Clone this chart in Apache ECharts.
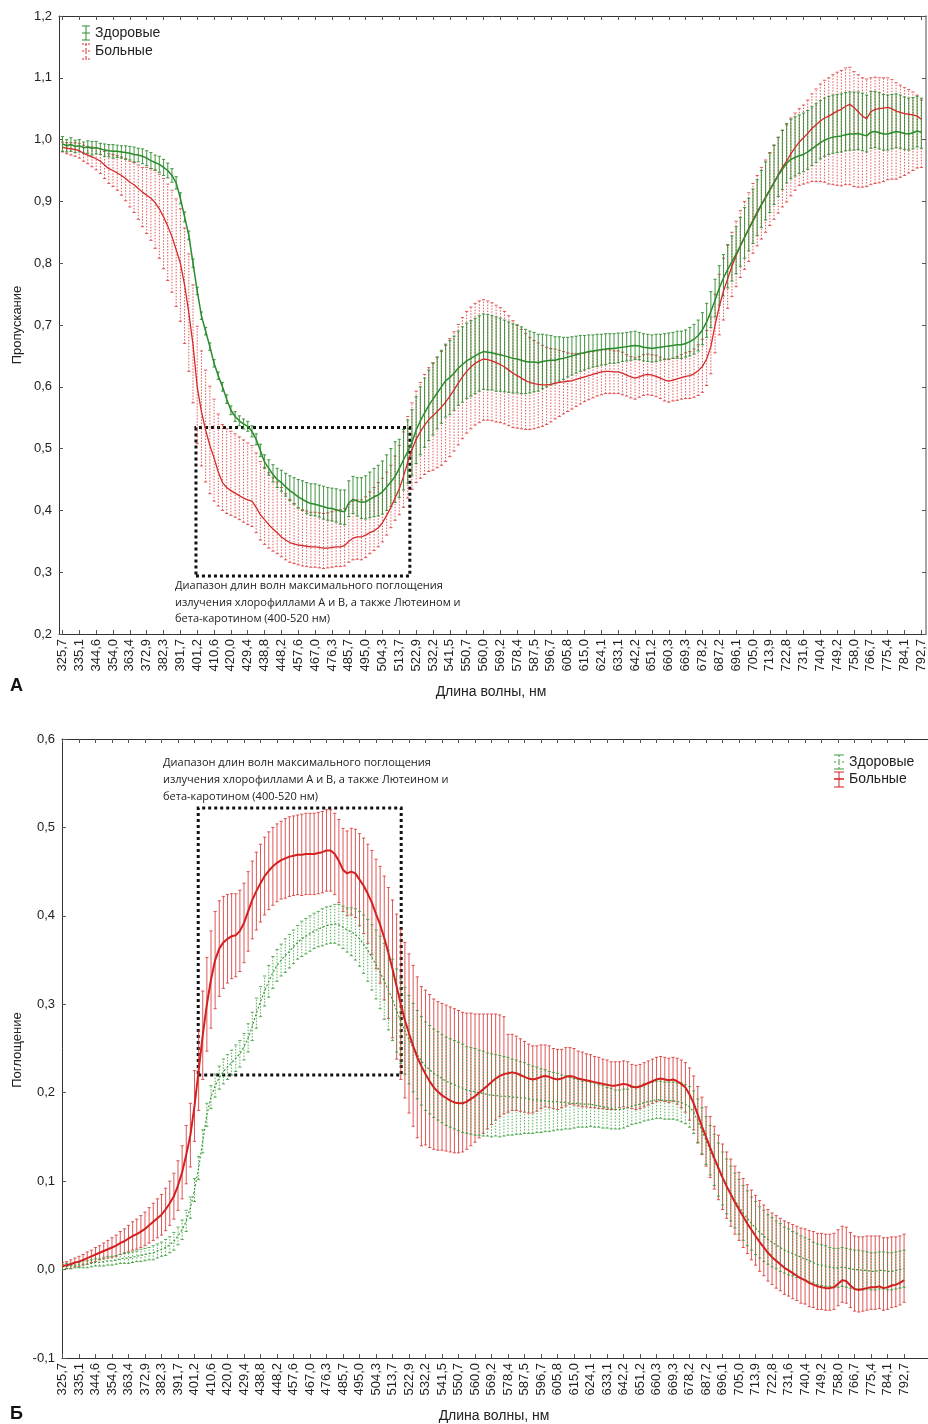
<!DOCTYPE html>
<html><head><meta charset="utf-8">
<script src="https://cdn.jsdelivr.net/npm/echarts@6/dist/echarts.min.js"></script>
<style>html,body{margin:0;padding:0;background:#fff}#c{width:928px;height:1424px}</style>
</head><body><div id="c"></div>
<script>
const tickLabels = ["325,7","335,1","344,6","354,0","363,4","372,9","382,3","391,7","401,2","410,6","420,0","429,4","438,8","448,2","457,6","467,0","476,3","485,7","495,0","504,3","513,7","522,9","532,2","541,5","550,7","560,0","569,2","578,4","587,5","596,7","605,8","615,0","624,1","633,1","642,2","651,2","660,3","669,3","678,2","687,2","696,1","705,0","713,9","722,8","731,6","740,4","749,2","758,0","766,7","775,4","784,1","792,7"];
const samplesPerTick = 4;
const seriesNames = ["Здоровые","Больные"];

// Panel A: transmission (Пропускание); error bars given as upper / lower extents from the mean
const healthyA = [0.993,0.990,0.992,0.989,0.990,0.987,0.988,0.986,0.987,0.985,0.983,0.982,0.981,0.981,0.980,0.979,0.978,0.976,0.975,0.973,0.970,0.966,0.963,0.960,0.955,0.950,0.942,0.930,0.905,0.875,0.845,0.800,0.755,0.715,0.690,0.665,0.638,0.618,0.600,0.580,0.562,0.552,0.545,0.540,0.536,0.528,0.515,0.497,0.478,0.468,0.458,0.450,0.445,0.438,0.432,0.427,0.422,0.418,0.414,0.411,0.410,0.408,0.406,0.404,0.403,0.401,0.399,0.398,0.412,0.418,0.415,0.413,0.414,0.418,0.422,0.425,0.430,0.438,0.446,0.455,0.468,0.482,0.495,0.510,0.530,0.545,0.558,0.570,0.580,0.590,0.600,0.610,0.615,0.622,0.630,0.636,0.642,0.646,0.650,0.654,0.657,0.656,0.655,0.653,0.652,0.650,0.648,0.646,0.645,0.643,0.641,0.640,0.640,0.639,0.641,0.642,0.643,0.643,0.645,0.646,0.648,0.650,0.652,0.654,0.655,0.657,0.658,0.659,0.660,0.661,0.662,0.662,0.663,0.664,0.665,0.666,0.667,0.666,0.664,0.663,0.662,0.663,0.664,0.665,0.666,0.667,0.668,0.668,0.670,0.673,0.677,0.683,0.692,0.705,0.722,0.740,0.760,0.776,0.790,0.802,0.815,0.828,0.842,0.855,0.868,0.881,0.894,0.906,0.918,0.930,0.942,0.952,0.962,0.968,0.971,0.974,0.976,0.980,0.985,0.990,0.995,0.999,1.002,1.004,1.005,1.006,1.008,1.009,1.009,1.010,1.008,1.006,1.012,1.013,1.011,1.009,1.009,1.011,1.013,1.012,1.010,1.009,1.011,1.014,1.012];
const healthyA_up = [0.012,0.010,0.011,0.010,0.010,0.009,0.010,0.011,0.010,0.009,0.010,0.010,0.011,0.010,0.010,0.011,0.011,0.012,0.011,0.012,0.012,0.013,0.012,0.013,0.013,0.012,0.011,0.010,0.009,0.008,0.007,0.007,0.006,0.006,0.006,0.006,0.006,0.006,0.007,0.007,0.007,0.008,0.008,0.008,0.008,0.009,0.009,0.010,
0.012,0.014,0.016,0.018,0.020,0.022,0.024,0.026,0.028,0.030,0.031,0.032,0.033,0.033,0.033,0.033,0.033,0.034,0.034,0.035,0.036,0.037,0.038,0.040,0.042,0.044,0.046,0.048,0.050,0.052,0.054,0.056,
0.047,0.049,0.051,0.053,0.054,0.055,0.056,0.057,0.058,0.058,0.059,0.059,0.060,0.060,0.060,0.061,0.061,0.061,0.061,0.061,0.061,0.061,0.060,0.060,0.059,0.058,0.057,0.056,0.055,0.054,0.052,0.050,0.048,0.046,0.044,0.042,0.040,0.038,0.036,0.034,0.032,0.031,0.030,0.029,0.028,0.027,0.026,0.026,0.025,0.025,0.024,0.024,0.024,0.023,0.023,0.023,0.023,0.022,0.022,0.022,0.022,0.022,0.021,0.021,0.021,0.021,0.022,0.022,0.022,0.023,0.024,0.025,
0.028,0.030,0.032,0.034,0.036,0.038,0.040,0.042,0.044,0.046,0.048,0.050,0.052,0.054,0.056,0.058,0.060,0.061,0.062,0.063,0.064,0.065,0.066,0.066,0.067,0.067,0.068,0.068,0.068,0.068,0.068,0.068,0.068,0.068,0.068,0.068,0.068,0.067,0.067,0.066,0.066,0.065,0.065,0.064,0.063,0.062,0.061,0.060,0.059,0.058,0.057,0.056,0.055];
const healthyA_down = [0.012,0.010,0.011,0.010,0.010,0.009,0.010,0.011,0.010,0.009,0.010,0.010,0.011,0.010,0.010,0.011,0.011,0.012,0.011,0.012,0.012,0.013,0.012,0.013,0.013,0.012,0.011,0.010,0.009,0.008,0.007,0.007,0.006,0.006,0.006,0.006,0.006,0.006,0.007,0.007,0.007,0.008,0.008,0.008,0.008,0.009,0.009,0.010,
0.010,0.011,0.012,0.013,0.014,0.015,0.016,0.017,0.018,0.018,0.019,0.019,0.019,0.019,0.020,0.020,0.020,0.020,0.021,0.021,0.022,0.023,0.024,0.026,0.028,0.030,0.032,0.034,0.036,0.038,0.040,0.042,
0.047,0.049,0.051,0.053,0.054,0.055,0.056,0.057,0.058,0.058,0.059,0.059,0.060,0.060,0.060,0.061,0.061,0.061,0.061,0.061,0.061,0.061,0.060,0.060,0.059,0.058,0.057,0.056,0.055,0.054,0.052,0.050,0.048,0.046,0.044,0.042,0.040,0.038,0.036,0.034,0.032,0.031,0.030,0.029,0.028,0.027,0.026,0.026,0.025,0.025,0.024,0.024,0.024,0.023,0.023,0.023,0.023,0.022,0.022,0.022,0.022,0.022,0.021,0.021,0.021,0.021,0.022,0.022,0.022,0.023,0.024,0.025,
0.024,0.025,0.026,0.027,0.028,0.029,0.030,0.031,0.032,0.033,0.034,0.035,0.036,0.036,0.036,0.036,0.036,0.035,0.034,0.033,0.032,0.031,0.030,0.029,0.028,0.028,0.027,0.027,0.026,0.026,0.026,0.026,0.026,0.026,0.026,0.026,0.026,0.026,0.026,0.026,0.026,0.026,0.026,0.026,0.026,0.026,0.026,0.026,0.026,0.026,0.026,0.026,0.026];
const patientsA = [0.988,0.986,0.985,0.984,0.982,0.978,0.975,0.972,0.969,0.965,0.959,0.953,0.950,0.946,0.942,0.937,0.931,0.927,0.921,0.915,0.910,0.905,0.898,0.888,0.875,0.860,0.843,0.822,0.800,0.765,0.720,0.668,0.600,0.560,0.530,0.505,0.485,0.462,0.445,0.437,0.432,0.428,0.424,0.420,0.417,0.415,0.405,0.393,0.385,0.377,0.370,0.364,0.357,0.352,0.348,0.346,0.344,0.343,0.342,0.341,0.341,0.340,0.339,0.339,0.340,0.341,0.341,0.343,0.350,0.355,0.357,0.357,0.360,0.364,0.367,0.372,0.380,0.392,0.405,0.420,0.435,0.455,0.478,0.498,0.515,0.527,0.538,0.547,0.553,0.560,0.567,0.575,0.585,0.595,0.606,0.616,0.625,0.632,0.638,0.642,0.645,0.644,0.642,0.639,0.636,0.632,0.627,0.622,0.618,0.614,0.610,0.607,0.605,0.604,0.603,0.603,0.604,0.606,0.607,0.608,0.609,0.610,0.612,0.614,0.616,0.618,0.620,0.622,0.624,0.625,0.625,0.624,0.624,0.622,0.619,0.616,0.614,0.616,0.619,0.620,0.619,0.617,0.614,0.611,0.609,0.611,0.613,0.615,0.617,0.618,0.621,0.626,0.633,0.645,0.665,0.700,0.730,0.755,0.775,0.795,0.812,0.828,0.842,0.856,0.870,0.883,0.895,0.907,0.919,0.931,0.943,0.955,0.965,0.977,0.987,0.996,1.003,1.010,1.018,1.024,1.030,1.035,1.038,1.042,1.046,1.049,1.054,1.057,1.052,1.045,1.038,1.034,1.045,1.049,1.050,1.051,1.052,1.050,1.046,1.044,1.042,1.041,1.040,1.038,1.033];
const patientsA_up = [0.008,0.009,0.010,0.011,0.012,0.013,0.014,0.016,0.018,0.020,0.022,0.024,0.026,0.028,0.030,0.032,0.034,0.036,0.038,0.040,
0.045,0.048,0.052,0.056,0.062,0.068,0.075,0.082,
0.088,0.092,0.095,0.097,0.098,0.098,0.097,0.096,
0.095,0.094,0.094,0.095,0.096,0.096,0.095,0.094,
0.092,0.090,0.088,0.086,0.085,0.084,0.083,0.082,
0.080,0.075,0.070,0.065,
0.060,0.058,0.057,0.056,0.056,0.056,0.056,0.057,
0.058,0.059,0.060,0.060,0.060,0.060,0.060,0.060,
0.062,0.066,0.070,0.073,0.072,0.070,0.068,0.068,
0.070,0.072,0.074,0.076,0.078,0.080,0.082,0.084,
0.086,0.088,0.090,0.092,0.093,0.094,0.095,0.096,0.097,0.097,0.097,0.097,
0.096,0.095,0.094,0.093,0.092,0.090,0.088,0.085,0.082,0.079,0.076,0.073,
0.070,0.067,0.064,0.061,0.058,0.055,0.052,0.049,0.046,0.044,0.042,0.040,
0.039,0.038,0.037,0.036,0.036,0.035,0.035,0.034,0.034,0.034,0.033,0.033,0.033,0.033,0.033,0.033,0.033,0.034,0.034,0.034,0.035,0.035,0.036,0.037,0.038,0.039,0.040,0.042,
0.044,0.046,0.048,0.050,0.052,0.053,0.054,0.055,0.056,0.057,0.058,0.058,0.059,0.059,0.060,0.060,0.060,0.060,0.060,0.060,0.059,0.058,0.056,0.054,
0.053,0.054,0.056,0.058,0.060,0.061,0.062,0.063,0.063,0.063,0.062,0.060,0.058,0.060,0.062,0.064,
0.055,0.052,0.050,0.049,0.048,0.047,0.046,0.044,0.042,0.040,0.037,0.034,0.031];
const patientsA_down = [0.008,0.009,0.010,0.011,0.012,0.013,0.014,0.016,0.018,0.020,0.022,0.024,0.026,0.028,0.032,0.036,
0.040,0.045,0.050,0.056,0.062,0.068,0.074,0.080,0.084,0.088,0.090,0.092,
0.094,0.095,0.095,0.094,0.092,0.088,0.084,0.078,
0.070,0.055,0.045,0.042,0.040,0.039,0.039,0.039,
0.040,0.041,0.041,0.041,0.040,0.038,0.036,0.034,
0.032,0.032,0.032,0.032,0.032,0.033,0.033,0.033,
0.033,0.033,0.033,0.032,0.032,0.032,0.032,0.033,
0.034,0.035,0.036,0.037,0.036,0.034,0.032,0.031,
0.031,0.032,0.033,0.036,0.042,0.050,0.058,0.064,
0.070,0.075,0.080,0.084,0.088,0.091,0.094,0.096,0.098,0.099,0.100,0.100,0.100,0.100,0.100,0.100,
0.099,0.098,0.097,0.096,0.094,0.092,0.090,0.088,0.085,0.082,0.079,0.076,
0.073,0.070,0.067,0.064,0.061,0.058,0.055,0.052,0.049,0.046,0.044,0.042,
0.040,0.039,0.038,0.037,0.037,0.036,0.036,0.035,0.035,0.035,0.034,0.034,0.034,0.033,0.033,0.033,0.033,0.033,0.033,0.034,0.034,0.034,0.035,0.035,0.036,0.037,0.038,0.040,
0.042,0.043,0.044,0.045,0.046,0.047,0.048,0.049,0.050,0.051,0.052,0.053,0.054,0.055,0.056,0.057,0.058,0.060,0.062,0.064,0.066,0.068,0.069,0.070,
0.075,0.080,0.086,0.092,0.098,0.104,0.110,0.115,0.120,0.124,0.127,0.130,0.128,0.122,0.115,0.110,
0.118,0.120,0.120,0.119,0.117,0.114,0.110,0.105,0.100,0.095,0.090,0.084,0.078];

// Panel Б: absorption (Поглощение)
const healthyB = [0.003,0.004,0.004,0.005,0.005,0.006,0.006,0.007,0.008,0.008,0.009,0.010,0.010,0.011,0.012,0.013,0.013,0.014,0.015,0.016,0.017,0.018,0.019,0.021,0.023,0.025,0.028,0.032,0.038,0.045,0.055,0.070,0.090,0.115,0.145,0.175,0.195,0.208,0.217,0.224,0.229,0.234,0.239,0.244,0.252,0.262,0.275,0.290,0.303,0.315,0.326,0.336,0.344,0.350,0.355,0.360,0.365,0.370,0.374,0.377,0.380,0.383,0.385,0.387,0.389,0.390,0.391,0.390,0.387,0.384,0.382,0.379,0.374,0.368,0.361,0.353,0.345,0.336,0.326,0.316,0.305,0.293,0.281,0.270,0.260,0.251,0.243,0.236,0.230,0.226,0.222,0.219,0.216,0.213,0.211,0.209,0.207,0.205,0.203,0.202,0.201,0.200,0.199,0.198,0.197,0.197,0.196,0.196,0.196,0.195,0.195,0.194,0.194,0.193,0.192,0.192,0.191,0.191,0.190,0.190,0.190,0.189,0.189,0.188,0.188,0.188,0.187,0.187,0.187,0.186,0.185,0.184,0.183,0.182,0.181,0.181,0.182,0.183,0.185,0.186,0.187,0.189,0.190,0.191,0.192,0.192,0.191,0.191,0.191,0.190,0.189,0.187,0.184,0.178,0.168,0.157,0.146,0.135,0.124,0.113,0.103,0.094,0.086,0.078,0.071,0.064,0.058,0.052,0.047,0.042,0.038,0.034,0.031,0.028,0.025,0.022,0.020,0.018,0.016,0.014,0.012,0.010,0.008,0.006,0.005,0.004,0.003,0.002,0.002,0.003,0.002,0.001,0.000,0.000,-0.001,-0.001,-0.002,-0.002,-0.001,-0.001,-0.002,-0.002,-0.001,0.000,0.001];
const healthyB_sd = [0.003,0.003,0.003,0.003,0.003,0.004,0.004,0.004,0.004,0.004,0.005,0.005,0.005,0.005,0.005,0.006,0.006,0.006,0.006,0.007,0.007,0.007,0.008,0.008,0.008,0.009,0.009,0.010,0.010,0.011,0.012,0.012,0.013,0.013,0.013,0.013,0.013,0.013,0.013,0.014,0.014,0.014,0.015,0.015,0.015,0.016,0.016,0.017,0.017,0.017,0.018,0.018,0.018,0.018,0.019,0.019,0.019,0.019,0.020,0.020,0.020,0.020,0.020,0.021,0.021,0.021,0.022,0.023,0.024,0.025,0.027,0.029,0.031,0.033,0.035,0.037,0.039,0.041,0.043,0.045,0.046,0.047,0.048,0.049,0.050,0.050,0.050,0.050,0.050,0.050,0.050,0.050,0.050,0.050,0.050,0.050,0.050,0.050,0.049,0.049,0.049,0.048,0.048,0.047,0.047,0.046,0.046,0.045,0.044,0.043,0.042,0.041,0.040,0.039,0.038,0.037,0.036,0.035,0.034,0.033,0.032,0.031,0.030,0.029,0.028,0.027,0.026,0.026,0.025,0.025,0.024,0.024,0.023,0.023,0.022,0.022,0.022,0.021,0.021,0.021,0.021,0.021,0.021,0.021,0.021,0.021,0.021,0.021,0.021,0.021,0.022,0.022,0.023,0.024,0.025,0.026,0.027,0.028,0.029,0.030,0.030,0.031,0.031,0.031,0.031,0.031,0.031,0.030,0.030,0.029,0.029,0.028,0.028,0.027,0.027,0.026,0.026,0.025,0.025,0.024,0.024,0.024,0.023,0.023,0.023,0.023,0.022,0.022,0.022,0.022,0.022,0.022,0.022,0.022,0.022,0.021,0.021,0.021,0.021,0.021,0.021,0.021,0.021,0.021,0.021];
const patientsB = [0.004,0.005,0.006,0.008,0.009,0.011,0.013,0.015,0.017,0.019,0.021,0.023,0.025,0.027,0.030,0.032,0.035,0.038,0.040,0.043,0.046,0.050,0.054,0.058,0.062,0.068,0.075,0.083,0.095,0.110,0.130,0.152,0.185,0.225,0.265,0.300,0.328,0.350,0.363,0.370,0.374,0.377,0.378,0.383,0.392,0.405,0.418,0.428,0.437,0.445,0.451,0.456,0.460,0.463,0.465,0.467,0.468,0.469,0.469,0.470,0.470,0.470,0.471,0.472,0.474,0.474,0.470,0.462,0.452,0.448,0.450,0.448,0.441,0.434,0.425,0.415,0.402,0.390,0.375,0.358,0.340,0.320,0.300,0.282,0.267,0.253,0.240,0.230,0.221,0.213,0.206,0.201,0.197,0.194,0.191,0.189,0.188,0.188,0.190,0.193,0.196,0.200,0.204,0.208,0.212,0.216,0.219,0.221,0.222,0.223,0.222,0.220,0.218,0.216,0.215,0.216,0.218,0.219,0.218,0.216,0.215,0.216,0.218,0.219,0.218,0.216,0.215,0.214,0.213,0.212,0.211,0.210,0.209,0.208,0.208,0.209,0.210,0.209,0.207,0.206,0.207,0.209,0.211,0.213,0.215,0.216,0.215,0.214,0.215,0.213,0.210,0.206,0.198,0.188,0.175,0.162,0.150,0.138,0.126,0.115,0.104,0.094,0.085,0.076,0.068,0.060,0.052,0.045,0.038,0.031,0.025,0.019,0.014,0.010,0.006,0.002,-0.001,-0.004,-0.007,-0.010,-0.012,-0.015,-0.017,-0.019,-0.020,-0.021,-0.021,-0.020,-0.016,-0.012,-0.013,-0.018,-0.022,-0.023,-0.022,-0.021,-0.020,-0.020,-0.019,-0.021,-0.020,-0.018,-0.017,-0.015,-0.012];
const patientsB_up = [0.004,0.004,0.005,0.005,0.006,0.006,0.007,0.007,0.008,0.008,0.009,0.010,0.011,0.012,0.013,0.014,0.015,0.016,0.017,0.018,0.019,0.020,0.021,0.022,0.023,0.024,0.025,0.026,0.028,0.030,0.033,0.036,0.040,0.045,0.050,0.053,0.055,0.055,0.054,0.052,0.050,0.048,0.047,0.046,0.045,0.045,0.044,0.044,0.044,0.044,0.044,0.044,0.044,0.044,0.045,0.045,0.045,0.045,0.046,0.046,0.046,0.046,0.046,0.046,0.046,0.046,0.046,0.047,0.047,0.048,0.049,0.050,0.052,0.054,0.056,0.059,0.062,0.066,0.070,0.074,0.078,0.082,0.085,0.088,0.090,0.091,0.091,0.090,
0.095,0.098,0.100,0.102,0.104,0.105,0.106,0.106,0.105,0.103,0.100,0.097,0.093,0.089,0.085,0.081,0.077,0.073,0.069,0.065,
0.044,0.043,0.042,0.041,0.040,0.039,0.038,0.037,0.036,0.035,0.035,0.034,0.034,0.033,0.033,0.032,0.032,0.031,0.031,0.030,0.030,0.029,0.029,0.028,0.028,0.027,0.027,0.026,0.026,0.026,0.025,0.025,0.025,0.025,0.025,0.025,0.025,0.025,0.025,0.025,0.025,0.026,0.027,0.028,
0.030,0.031,0.032,0.033,0.034,0.035,0.036,0.037,0.038,0.039,0.040,0.041,0.042,0.043,0.044,0.045,0.046,0.047,0.048,0.049,0.050,0.051,0.052,0.053,0.054,0.055,0.056,0.057,0.058,0.059,0.060,0.060,0.061,0.061,0.061,0.061,0.061,0.061,0.061,0.060,0.060,0.060,0.059,0.059,0.058,0.058,0.057,0.057,0.056,0.055,0.054,0.053,0.052];
const patientsB_down = [0.004,0.004,0.005,0.005,0.006,0.006,0.007,0.007,0.008,0.008,0.009,0.010,0.011,0.012,0.013,0.014,0.015,0.016,0.017,0.018,0.019,0.020,0.021,0.022,0.023,0.024,0.025,0.026,0.028,0.030,0.033,0.036,0.040,0.045,0.050,0.053,0.055,0.055,0.054,0.052,0.050,0.048,0.047,0.046,0.045,0.045,0.044,0.044,0.044,0.044,0.044,0.044,0.044,0.044,0.045,0.045,0.045,0.045,0.046,0.046,0.046,0.046,0.046,0.046,0.046,0.046,0.046,0.047,0.047,0.048,0.049,0.050,0.052,0.054,0.056,0.059,0.062,0.066,0.070,0.074,0.078,0.082,0.085,0.088,0.090,0.091,0.091,0.090,
0.080,0.075,0.070,0.066,0.062,0.060,0.058,0.057,0.056,0.055,0.054,0.053,0.052,0.051,0.050,0.049,0.048,0.047,0.046,0.045,
0.044,0.043,0.042,0.041,0.040,0.039,0.038,0.037,0.036,0.035,0.035,0.034,0.034,0.033,0.033,0.032,0.032,0.031,0.031,0.030,0.030,0.029,0.029,0.028,0.028,0.027,0.027,0.026,0.026,0.026,0.025,0.025,0.025,0.025,0.025,0.025,0.025,0.025,0.025,0.025,0.025,0.026,0.027,0.028,
0.029,0.030,0.031,0.032,0.033,0.034,0.035,0.036,0.036,0.036,0.036,0.036,0.035,0.035,0.034,0.034,0.033,0.033,0.032,0.032,0.031,0.031,0.030,0.030,0.029,0.029,0.028,0.028,0.027,0.027,0.026,0.026,0.025,0.025,0.025,0.025,0.025,0.025,0.025,0.025,0.025,0.025,0.025,0.025,0.025,0.025,0.025,0.025,0.025,0.025,0.025,0.025,0.025];

const noteLines = ["Диапазон длин волн максимального поглощения","излучения хлорофиллами А и В, а также Лютеином и","бета-каротином (400-520 нм)"];
// annotation boxes in axis units (sample index, value)
const boxA = {x:[31.7, 82.5], y:[0.294, 0.534]};
const boxB = {x:[32.9, 82.1], y:[0.220, 0.522]};

const FONT = '"Liberation Sans", Arial, sans-serif';
const tickIdx = tickLabels.map((_, k) => k * samplesPerTick);
const fmtX = v => { const k = Math.round(v / samplesPerTick); return tickLabels[k] || ''; };
const fmtY = v => (Math.round(v * 10) / 10).toFixed(1).replace('.', ',');

function pairs(arr){ return arr.map((v,i)=>[i,v]); }
function errData(mean, up, down){ return mean.map((m,i)=>[i, m - down[i], m + up[i]]); }
function errRender(color, dash, lw){
  return function(params, api){
    const x = api.value(0);
    const a = api.coord([x, api.value(1)]);
    const b = api.coord([x, api.value(2)]);
    const hw = 1.6;
    const s = {stroke: color, lineWidth: lw, lineDash: dash};
    const sc = {stroke: color, lineWidth: lw};
    return {type:'group', children:[
      {type:'line', shape:{x1:a[0], y1:a[1], x2:b[0], y2:b[1]}, style:s},
      {type:'line', shape:{x1:a[0]-hw, y1:a[1], x2:a[0]+hw, y2:a[1]}, style:sc},
      {type:'line', shape:{x1:b[0]-hw, y1:b[1], x2:b[0]+hw, y2:b[1]}, style:sc}
    ]};
  };
}
function errSeries(name, mean, up, down, xi, yi, color, dash, lw, z){
  return {type:'custom', name, xAxisIndex:xi, yAxisIndex:yi, data: errData(mean, up, down),
    encode:{x:0, y:[1,2]}, renderItem: errRender(color, dash, lw), z, silent:true, clip:true};
}
function box(b){
  return {silent:true, itemStyle:{color:'rgba(0,0,0,0)', borderColor:'#111', borderWidth:3, borderType:[3,3]},
    data:[[{coord:[b.x[0], b.y[0]]},{coord:[b.x[1], b.y[1]]}]]};
}

const axisLineDark = {show:true, onZero:false, lineStyle:{color:'#333', width:1}};
function bottomX(gi, min, max){
  return {type:'value', gridIndex:gi, min, max, position:'bottom',
    axisLine:axisLineDark, splitLine:{show:false},
    axisTick:{show:true, inside:true, length:4, customValues:tickIdx, lineStyle:{color:'#555'}},
    axisLabel:{customValues:tickIdx, formatter:fmtX, rotate:90, margin:5, fontFamily:FONT, fontSize:13, color:'#222'}};
}
function topX(gi, min, max){
  return {type:'value', gridIndex:gi, min, max, position:'top',
    axisLine:axisLineDark, splitLine:{show:false},
    axisTick:{show:true, inside:true, length:4, customValues:tickIdx, lineStyle:{color:'#555'}},
    axisLabel:{show:false}};
}
function leftY(gi, min, max){
  return {type:'value', gridIndex:gi, min, max, interval:0.1, position:'left',
    axisLine:axisLineDark, splitLine:{show:false},
    axisTick:{show:true, inside:true, length:4, lineStyle:{color:'#555'}},
    axisLabel:{formatter:fmtY, margin:7, fontFamily:FONT, fontSize:13, color:'#222'}};
}
function rightY(gi, min, max, showLine){
  return {type:'value', gridIndex:gi, min, max, interval:0.1, position:'right',
    axisLine:{show:showLine, onZero:false, lineStyle:{color:'#888', width:1.5}}, splitLine:{show:false},
    axisTick:{show:showLine, inside:true, length:4, lineStyle:{color:'#555'}},
    axisLabel:{show:false}};
}

const G_A = '#2a8c2a', R_A = '#d42a2a', G_B = '#3a9a3a', R_B = '#d42020';
const legendFont = '14px ' + FONT;
const option = {
  animation:false,
  backgroundColor:'#fff',
  grid:[
    {left:59, top:16, width:867, height:618},
    {left:62, top:739, width:870, height:619}
  ],
  xAxis:[bottomX(0,-0.83,205.1), topX(0,-0.83,205.1), bottomX(1,-0.12,209.8), topX(1,-0.12,209.8)],
  yAxis:[leftY(0,0.2,1.2), rightY(0,0.2,1.2,true), leftY(1,-0.1,0.6), rightY(1,-0.1,0.6,false)],
  series:[
    errSeries(seriesNames[1], patientsA, patientsA_up, patientsA_down, 0, 0, 'rgba(222,60,60,0.85)', [1.5,1.5], 1, 2),
    errSeries(seriesNames[0], healthyA, healthyA_up, healthyA_down, 0, 0, 'rgba(40,135,40,0.8)', null, 1.1, 3),
    {type:'line', name:seriesNames[1], xAxisIndex:0, yAxisIndex:0, data:pairs(patientsA), showSymbol:false,
      lineStyle:{color:R_A, width:1.3}, z:5, silent:true, markArea: box(boxA)},
    {type:'line', name:seriesNames[0], xAxisIndex:0, yAxisIndex:0, data:pairs(healthyA), showSymbol:false,
      lineStyle:{color:G_A, width:1.5}, z:6, silent:true},

    errSeries(seriesNames[1], patientsB, patientsB_up, patientsB_down, 2, 2, 'rgba(215,45,45,0.8)', null, 1, 2),
    errSeries(seriesNames[0], healthyB, healthyB_sd, healthyB_sd, 2, 2, 'rgba(60,160,60,0.85)', [1.5,1.5], 1, 3),
    {type:'line', name:seriesNames[0], xAxisIndex:2, yAxisIndex:2, data:pairs(healthyB), showSymbol:false,
      lineStyle:{color:G_B, width:1.2, type:[2,2]}, z:5, silent:true},
    {type:'line', name:seriesNames[1], xAxisIndex:2, yAxisIndex:2, data:pairs(patientsB), showSymbol:false,
      lineStyle:{color:R_B, width:2}, z:6, silent:true, markArea: box(boxB)}
  ],
  graphic:{elements:[
    // legend A
    {type:'line', shape:{x1:86,y1:26,x2:86,y2:40}, style:{stroke:G_A, lineWidth:1}},
    {type:'line', shape:{x1:82,y1:26,x2:90,y2:26}, style:{stroke:G_A, lineWidth:1}},
    {type:'line', shape:{x1:82,y1:33,x2:90,y2:33}, style:{stroke:G_A, lineWidth:1}},
    {type:'line', shape:{x1:82,y1:40,x2:90,y2:40}, style:{stroke:G_A, lineWidth:1}},
    {type:'text', x:95, y:33, style:{text:seriesNames[0], font:legendFont, fill:'#222', verticalAlign:'middle'}},
    {type:'line', shape:{x1:86,y1:44,x2:86,y2:59}, style:{stroke:R_A, lineWidth:1, lineDash:[2,2]}},
    {type:'line', shape:{x1:82,y1:44,x2:90,y2:44}, style:{stroke:R_A, lineWidth:1, lineDash:[2,1]}},
    {type:'line', shape:{x1:82,y1:51,x2:90,y2:51}, style:{stroke:R_A, lineWidth:1, lineDash:[2,1]}},
    {type:'line', shape:{x1:82,y1:59,x2:90,y2:59}, style:{stroke:R_A, lineWidth:1, lineDash:[2,1]}},
    {type:'text', x:95, y:51, style:{text:seriesNames[1], font:legendFont, fill:'#222', verticalAlign:'middle'}},
    // legend B
    {type:'line', shape:{x1:839,y1:755,x2:839,y2:769}, style:{stroke:G_B, lineWidth:1, lineDash:[2,2]}},
    {type:'line', shape:{x1:834,y1:755,x2:844,y2:755}, style:{stroke:G_B, lineWidth:1}},
    {type:'line', shape:{x1:834,y1:762,x2:844,y2:762}, style:{stroke:G_B, lineWidth:1, lineDash:[2,2]}},
    {type:'line', shape:{x1:834,y1:769,x2:844,y2:769}, style:{stroke:G_B, lineWidth:1}},
    {type:'text', x:849, y:762, style:{text:seriesNames[0], font:legendFont, fill:'#222', verticalAlign:'middle'}},
    {type:'line', shape:{x1:839,y1:772,x2:839,y2:787}, style:{stroke:R_B, lineWidth:1}},
    {type:'line', shape:{x1:834,y1:772,x2:844,y2:772}, style:{stroke:R_B, lineWidth:1}},
    {type:'line', shape:{x1:834,y1:779,x2:844,y2:779}, style:{stroke:R_B, lineWidth:1.5}},
    {type:'line', shape:{x1:834,y1:787,x2:844,y2:787}, style:{stroke:R_B, lineWidth:1}},
    {type:'text', x:849, y:779, style:{text:seriesNames[1], font:legendFont, fill:'#222', verticalAlign:'middle'}},
    // annotations
    {type:'text', x:175, y:578, style:{text:noteLines.join('\n'), font:'11px "Open Sans", sans-serif', lineHeight:16.5, fill:'#222'}},
    {type:'text', x:163, y:754, style:{text:noteLines.join('\n'), font:'11px "Open Sans", sans-serif', lineHeight:17, fill:'#222'}},
    // axis names
    {type:'text', x:491, y:692, style:{text:'Длина волны, нм', font:'14px '+FONT, fill:'#222', align:'center', verticalAlign:'middle'}},
    {type:'text', x:494, y:1416, style:{text:'Длина волны, нм', font:'14px '+FONT, fill:'#222', align:'center', verticalAlign:'middle'}},
    {type:'text', x:17, y:325, rotation:Math.PI/2, style:{text:'Пропускание', font:'13px '+FONT, fill:'#222', align:'center', verticalAlign:'middle'}},
    {type:'text', x:17, y:1050, rotation:Math.PI/2, style:{text:'Поглощение', font:'13px '+FONT, fill:'#222', align:'center', verticalAlign:'middle'}},
    // panel letters
    {type:'text', x:10, y:686, style:{text:'А', font:'bold 18px '+FONT, fill:'#111', verticalAlign:'middle'}},
    {type:'text', x:10, y:1414, style:{text:'Б', font:'bold 18px '+FONT, fill:'#111', verticalAlign:'middle'}}
  ]}
};
const chart = echarts.init(document.getElementById('c'), null, {renderer:'canvas'});
chart.setOption(option);
</script></body></html>
